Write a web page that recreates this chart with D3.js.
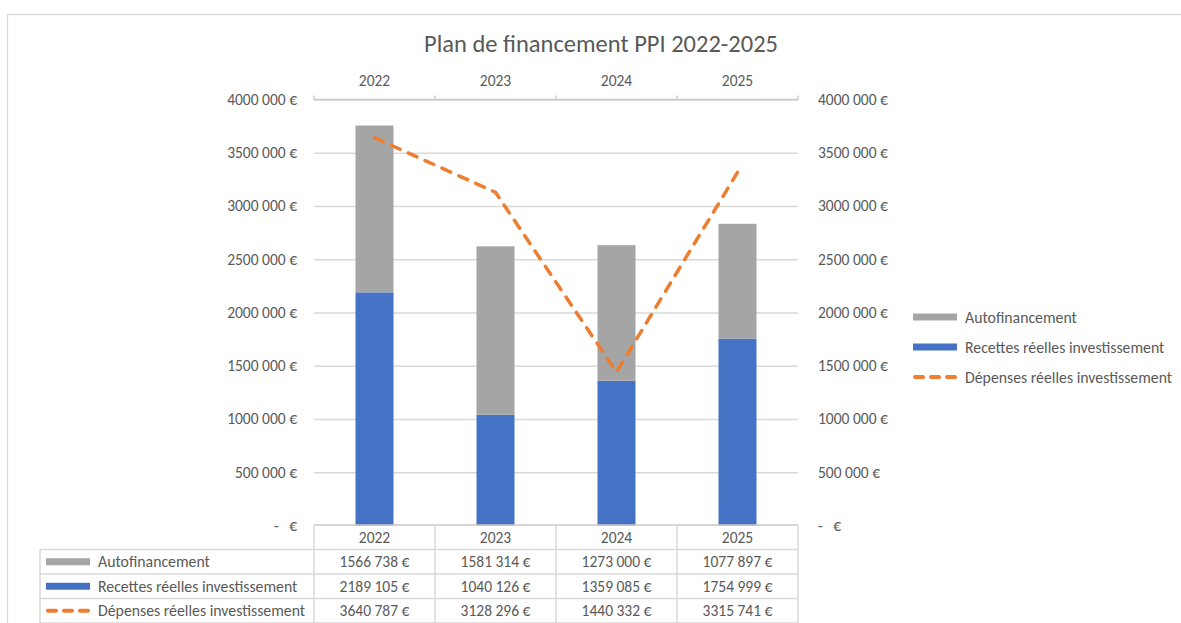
<!DOCTYPE html>
<html>
<head>
<meta charset="utf-8">
<script src="https://cdn.jsdelivr.net/npm/d3@7"></script>
<style>
  body { margin: 0; background: #fff; }
  svg { display: block; font-family: Carlito, Lato, sans-serif; }
</style>
</head>
<body>
<svg id="chart" width="1181" height="623"></svg>
<script>
// data
var years = ["2022", "2023", "2024", "2025"];
var autofinancement = [1566738, 1581314, 1273000, 1077897];
var recettes = [2189105, 1040126, 1359085, 1754999];
var depenses = [3640787, 3128296, 1440332, 3315741];
var seriesNames = ["Autofinancement", "Recettes réelles investissement", "Dépenses réelles investissement"];
var yTicks = [0, 500000, 1000000, 1500000, 2000000, 2500000, 3000000, 3500000, 4000000];

var GREY = "#a5a5a5", BLUE = "#4472c4", ORANGE = "#ed7d31";
var TXT = "#595959", GRID = "#d9d9d9";
var NUM_SIZE = "15.5px", LBL_SIZE = "15.8px";

var svg = d3.select("#chart");

// "4000 000 €" style, zero as "- €"
function euro(v) {
  if (v == 0) return "-\u00a0\u00a0\u00a0€";
  var s = String(Math.round(v));
  return s.slice(0, -3) + " " + s.slice(-3) + " €";
}

var x = d3.scaleBand().domain(years).range([314, 798]);
var y = d3.scaleLinear().domain([0, 4000000]).range([525.5, 99.5]);
var barW = x.bandwidth() * 0.314;

// outer chart frame
svg.append("rect")
  .attr("x", 7.5).attr("y", 14.5)
  .attr("width", 1300).attr("height", 700)
  .attr("fill", "none").attr("stroke", GRID).attr("stroke-width", 1.3);

// title
svg.append("text")
  .attr("x", 601).attr("y", 52)
  .attr("text-anchor", "middle")
  .attr("font-size", "24.5px")
  .attr("fill", TXT)
  .text("Plan de financement PPI 2022-2025");

// gridlines
svg.append("g")
  .attr("transform", "translate(314,0)")
  .call(d3.axisLeft(y).tickValues(yTicks.slice(1)).tickSize(-484).tickFormat(""))
  .call(g => g.select(".domain").remove())
  .call(g => g.selectAll("line").attr("stroke", GRID).attr("stroke-width", 1.3));

// left axis
svg.append("g")
  .attr("transform", "translate(314,0)")
  .call(d3.axisLeft(y).tickValues(yTicks).tickSize(0).tickPadding(17).tickFormat(euro))
  .call(g => g.select(".domain").remove())
  .attr("font-family", null).attr("font-size", NUM_SIZE)
  .call(g => g.selectAll("text").attr("fill", TXT));

// right axis
svg.append("g")
  .attr("transform", "translate(798,0)")
  .call(d3.axisRight(y).tickValues(yTicks).tickSize(0).tickPadding(20).tickFormat(euro))
  .call(g => g.select(".domain").remove())
  .attr("font-family", null).attr("font-size", NUM_SIZE)
  .call(g => g.selectAll("text").attr("fill", TXT));

// top category axis (secondary)
var topAxis = svg.append("g").attr("transform", "translate(0," + y(4000000) + ")");
topAxis.append("line")
  .attr("x1", x.range()[0]).attr("x2", x.range()[1])
  .attr("stroke", "#c8c8c8").attr("stroke-width", 1.3);
topAxis.selectAll(".tk")
  .data(years.map(d => x(d)).concat([x.range()[1]]))
  .join("line")
  .attr("x1", d => d).attr("x2", d => d)
  .attr("y1", 0).attr("y2", -4)
  .attr("stroke", "#c8c8c8").attr("stroke-width", 1.3);
topAxis.selectAll(".lbl")
  .data(years)
  .join("text")
  .attr("x", d => x(d) + x.bandwidth() / 2)
  .attr("y", -14)
  .attr("text-anchor", "middle")
  .attr("font-size", NUM_SIZE)
  .attr("fill", TXT)
  .text(d => d);

// stacked bars
var stack = years.map((d, i) => ({ year: d, rec: recettes[i], auto: autofinancement[i] }));
svg.append("g").selectAll("rect")
  .data(stack)
  .join("rect")
  .attr("x", d => x(d.year) + (x.bandwidth() - barW) / 2)
  .attr("width", barW)
  .attr("y", d => y(d.rec))
  .attr("height", d => y(0) - y(d.rec))
  .attr("fill", BLUE);
svg.append("g").selectAll("rect")
  .data(stack)
  .join("rect")
  .attr("x", d => x(d.year) + (x.bandwidth() - barW) / 2)
  .attr("width", barW)
  .attr("y", d => y(d.rec + d.auto))
  .attr("height", d => y(d.rec) - y(d.rec + d.auto))
  .attr("fill", GREY);

// dashed line
var line = d3.line()
  .x((d, i) => x(years[i]) + x.bandwidth() / 2)
  .y(d => y(d));
svg.append("path")
  .datum(depenses)
  .attr("d", line)
  .attr("fill", "none")
  .attr("stroke", ORANGE)
  .attr("stroke-width", 3.5)
  .attr("stroke-linecap", "round")
  .attr("stroke-linejoin", "round")
  .attr("stroke-dasharray", "9.5 9");

// swatch helper
function swatch(g, i, x0, yc) {
  if (i < 2) {
    g.append("rect")
      .attr("x", x0).attr("y", yc - 3.5)
      .attr("width", 44).attr("height", 7)
      .attr("fill", i == 0 ? GREY : BLUE);
  } else {
    g.append("line")
      .attr("x1", x0 + 2).attr("x2", x0 + 42)
      .attr("y1", yc).attr("y2", yc)
      .attr("stroke", ORANGE).attr("stroke-width", 4)
      .attr("stroke-linecap", "round")
      .attr("stroke-dasharray", "8 8");
  }
}

// legend on the right
var legY = d3.scalePoint().domain(seriesNames).range([317, 377]);
var leg = svg.append("g");
seriesNames.forEach(function(n, i) {
  swatch(leg, i, 913, legY(n));
  leg.append("text")
    .attr("x", 965).attr("y", legY(n))
    .attr("dy", "0.35em")
    .attr("font-size", LBL_SIZE)
    .attr("fill", TXT)
    .text(n);
});

// data table
var rows = d3.scaleBand().domain(["header"].concat(seriesNames)).range([525, 623]);
var tableData = [autofinancement, recettes, depenses];
var tbl = svg.append("g").attr("stroke", GRID).attr("stroke-width", 1.5);
tbl.append("line").attr("x1", 314).attr("x2", 798).attr("y1", rows("header")).attr("y2", rows("header")).attr("stroke", "#c8c8c8");
seriesNames.forEach(function(n) {
  tbl.append("line").attr("x1", 40).attr("x2", 798).attr("y1", rows(n)).attr("y2", rows(n));
});
tbl.append("line").attr("x1", 40).attr("x2", 798).attr("y1", 623).attr("y2", 623);
tbl.append("line").attr("x1", 40).attr("x2", 40).attr("y1", rows(seriesNames[0])).attr("y2", 623);
years.map(d => x(d)).concat([x.range()[1]]).forEach(function(xx) {
  tbl.append("line").attr("x1", xx).attr("x2", xx).attr("y1", rows("header")).attr("y2", 623);
});

var cells = svg.append("g").attr("font-size", NUM_SIZE).attr("fill", TXT).attr("text-anchor", "middle");
years.forEach(function(yr) {
  cells.append("text")
    .attr("x", x(yr) + x.bandwidth() / 2)
    .attr("y", rows("header") + rows.bandwidth() / 2)
    .attr("dy", "0.35em")
    .text(yr);
});
seriesNames.forEach(function(n, i) {
  var yc = rows(n) + rows.bandwidth() / 2;
  swatch(svg, i, 46, yc);
  svg.append("text")
    .attr("x", 98).attr("y", yc).attr("dy", "0.35em")
    .attr("font-size", LBL_SIZE).attr("fill", TXT)
    .text(n);
  years.forEach(function(yr, j) {
    cells.append("text")
      .attr("x", x(yr) + x.bandwidth() / 2)
      .attr("y", yc).attr("dy", "0.35em")
      .text(euro(tableData[i][j]));
  });
});
</script>
</body>
</html>
